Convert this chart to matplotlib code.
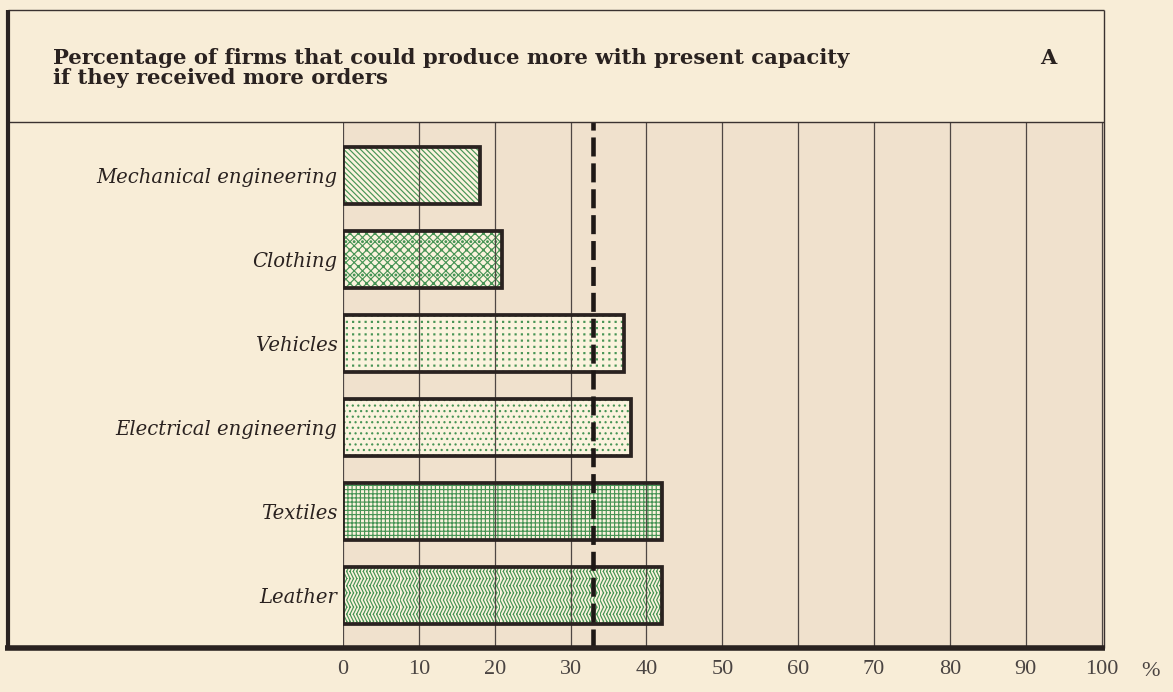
import warnings
warnings.filterwarnings("ignore")
import numpy as np
import matplotlib
matplotlib.use("Agg")
import matplotlib.pyplot as plt
import matplotlib.hatch as mhatch
from matplotlib.path import Path
from matplotlib.lines import Line2D

# ---------------- data ----------------
categories = ["Mechanical engineering", "Clothing", "Vehicles",
              "Electrical engineering", "Textiles", "Leather"]
values = [18, 21, 37, 38, 42, 42]
reference_value = 33
x_ticks = [0, 10, 20, 30, 40, 50, 60, 70, 80, 90, 100]
title_lines = ["Percentage of firms that could produce more with present capacity",
               "if they received more orders"]
panel_letter = "A"
unit_label = "%"

# ---------------- custom hatches ----------------
class ZigzagHatch(mhatch.HatchPatternBase):
    """vertical zigzag lines (char 'z')"""
    def __init__(self, hatch, density):
        self.num_lines = int(hatch.count('z') * density)
        self.nseg = 14
        self.num_vertices = self.num_lines * self.nseg * 2 if self.num_lines else 0

    def set_vertices_and_codes(self, vertices, codes):
        n, k = self.num_lines, self.nseg
        amp = 0.035
        idx = 0
        for i in range(n):
            x0 = i / n
            for j in range(k):
                ya, yb = j / k, (j + 1) / k
                xa = x0 + (amp if j % 2 else 0.0)
                xb = x0 + (amp if (j + 1) % 2 else 0.0)
                vertices[idx] = (xa, ya); codes[idx] = Path.MOVETO
                vertices[idx + 1] = (xb, yb); codes[idx + 1] = Path.LINETO
                idx += 2


class DotGridHatch(mhatch.HatchPatternBase):
    """square grid of tiny dots (char 'g')"""
    def __init__(self, hatch, density):
        self.num_rows = int(hatch.count('g') * 8)
        self.num_vertices = self.num_rows ** 2 * 5 if self.num_rows else 0

    def set_vertices_and_codes(self, vertices, codes):
        n = self.num_rows
        s = 0.005
        idx = 0
        for i in range(n):
            for j in range(n):
                cx, cy = (i + 0.5) / n, (j + 0.5) / n
                pts = [(cx - s, cy - s), (cx + s, cy - s), (cx + s, cy + s),
                       (cx - s, cy + s), (cx - s, cy - s)]
                for m, p in enumerate(pts):
                    vertices[idx] = p
                    codes[idx] = (Path.MOVETO if m == 0 else
                                  (Path.CLOSEPOLY if m == 4 else Path.LINETO))
                    idx += 1

mhatch._hatch_types.append(ZigzagHatch)
mhatch._hatch_types.append(DotGridHatch)

hatches = ["\\\\\\\\\\\\", "xxxx..", "gg", "...", "++++", "zzzzz"]

# ---------------- colours ----------------
paper = "#f8edd7"
plot_bg = "#f0e1cd"
bar_fill = "#fbf3de"
hatch_green = "#479455"
ink = "#2a2220"

plt.rcParams['hatch.linewidth'] = 0.85

W, H = 1173, 692
fig = plt.figure(figsize=(W / 100, H / 100), dpi=100, facecolor=paper)

def px(x0, x1, y0, y1):
    return [x0 / W, x1 / W], [1 - y0 / H, 1 - y1 / H]

# axes placement (pixel based)
ax_l, ax_r, ax_t, ax_b = 343, 1104, 122, 648
ax = fig.add_axes([ax_l / W, 1 - ax_b / H, (ax_r - ax_l) / W, (ax_b - ax_t) / H])
ax.set_facecolor(plot_bg)

ypos = np.arange(len(categories))
bar_h = 0.68
# hatch layer
ax.barh(ypos, values, height=bar_h, color=bar_fill, edgecolor=hatch_green,
        linewidth=0, hatch=hatches, zorder=2)
# outline layer
ax.barh(ypos, values, height=bar_h, color="none", edgecolor=ink,
        linewidth=2.7, zorder=4)

# vertical grid lines
for t in x_ticks:
    ax.axvline(t, color="#4f4744", lw=0.9, zorder=3)

# dashed reference line
ax.axvline(reference_value, color="#1e1816", lw=3.3, zorder=5,
           linestyle=(0, (4.15, 1.5)))

ax.set_xlim(0, 100.3)
ax.set_ylim(len(categories) - 1 + 0.62, -0.64)

ax.set_yticks(ypos)
ax.set_yticklabels(categories, family="DejaVu Serif", style="italic",
                   fontsize=14.1, color=ink)
ax.tick_params(axis="y", length=0, pad=4)

ax.set_xticks(x_ticks)
ax.set_xticklabels([str(t) for t in x_ticks], family="Liberation Serif",
                   fontsize=16, color="#4a4442")
ax.tick_params(axis="x", length=0, pad=9)

for s in ["left", "top", "right", "bottom"]:
    ax.spines[s].set_visible(False)

# ---------------- frame lines ----------------
def line(x0, x1, y0, y1, lw, color=ink):
    xs, ys = px(x0, x1, y0, y1)
    fig.add_artist(Line2D(xs, ys, transform=fig.transFigure, lw=lw, color=color,
                          solid_capstyle="butt", zorder=10))

line(8, 1104, 10, 10, 1.0, "#3a3230")          # top of header
line(1104, 1104, 10, 648, 1.0, "#3a3230")      # right edge
line(8, 1104, 122, 122, 1.0, "#3a3230")        # header separator
line(8, 8, 10, 650, 3.0)                       # left thick edge
line(5, 1105, 648, 648, 4.0)                   # bottom thick edge

# ---------------- texts ----------------
for k, txt in enumerate(title_lines):
    fig.text(53 / W, 1 - (64 + 20 * k) / H, txt, family="DejaVu Serif",
             fontweight="bold", fontsize=15.2, color=ink, va="baseline",
             ha="left")
fig.text(1048 / W, 1 - 64 / H, panel_letter, family="DejaVu Serif",
         fontweight="bold", fontsize=15, color=ink, va="baseline", ha="center")
fig.text(1151 / W, 1 - 672 / H, unit_label, family="Liberation Serif",
         fontsize=16, color="#4a4442", va="center", ha="center")

fig.savefig("out.png", dpi=100, facecolor=paper)
